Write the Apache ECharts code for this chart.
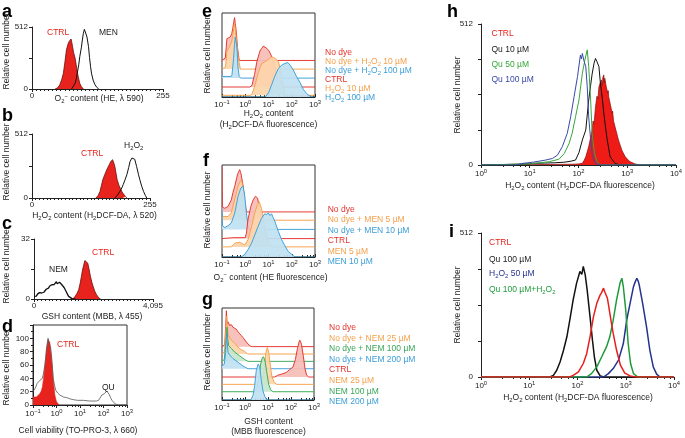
<!DOCTYPE html>
<html><head><meta charset="utf-8">
<script src="https://cdn.jsdelivr.net/npm/echarts@6/dist/echarts.min.js"></script>
<style>html,body{margin:0;padding:0;background:#fff}#c{width:685px;height:438px}</style>
</head><body><div id="c"></div>
<script>
// ================= DATA =================
// a: O2- content (HE, channel 0-255), counts 0-512
const aTicksX = [0, 255];
const aTicksY = [0, 512];
const aCTRL = [[45,0],[50,10],[54,33],[58,80],[61,129],[64,220],[67,322],[70,370],[72,391],[74,400],[76,413],[77,395],[79,350],[81,300],[84,253],[86,200],[88,143],[90,100],[93,47],[96,20],[100,0]];
const aMEN = [[77,0],[80,15],[84,47],[86,80],[88,129],[91,200],[93,267],[96,340],[98,405],[100,460],[102,493],[103,500],[105,482],[107,430],[110,350],[112,260],[114,184],[116,125],[119,74],[122,40],[126,14],[130,0]];
// b: H2O2 content (H2DCF-DA, channel 0-255)
const bTicksX = [0, 255];
const bTicksY = [0, 512];
const bCTRL = [[138,0],[143,20],[147,53],[150,100],[153,147],[157,185],[160,213],[164,245],[167,267],[170,290],[172,300],[174,307],[176,290],[179,253],[181,210],[184,147],[188,100],[192,67],[196,40],[199,27],[202,12],[205,0]];
const bH2O2 = [[179,0],[185,25],[190,53],[194,80],[197,107],[201,145],[205,187],[209,245],[212,293],[216,320],[219,333],[222,310],[226,253],[230,190],[233,147],[237,95],[241,53],[245,20],[248,0]];
// c: GSH content (MBB, channel 0-4095), counts 0-32
const cTicksX = [0, 4095];
const cTicksY = [0, 32];
const cNEM = [[0,1.4],[40,2.2],[80,1.5],[120,2.6],[150,2.3],[190,3.4],[230,2.8],[266,3.2],[300,4.2],[340,3.6],[382,4.1],[420,5.2],[460,4.9],[497,5.8],[540,6.9],[580,6.4],[613,7.6],[650,8.3],[690,7.7],[729,8.5],[770,9.2],[800,8.1],[845,8.5],[880,8.9],[920,7.9],[960,7.6],[1000,6.9],[1040,6.0],[1076,5.0],[1110,3.9],[1150,2.6],[1191,1.4],[1250,0.6],[1307,0.2],[1423,0]];
const cCTRL = [[1307,0],[1380,0.6],[1423,1.4],[1480,3],[1538,5.0],[1590,8.5],[1631,12],[1670,15.5],[1712,18.2],[1750,20.5],[1781,21.2],[1815,20],[1851,19.1],[1900,15.5],[1943,12],[1990,9],[2035,6.7],[2090,4.2],[2151,2.3],[2220,0.8],[2290,0]];
// d: cell viability (TO-PRO-3), x as log10 fluorescence, y 0-100
const dTicksY = [0, 20, 40, 60, 80, 100];
const dCTRL = [[-1,12],[-0.93,11],[-0.86,12],[-0.78,14],[-0.71,17],[-0.65,21],[-0.6,27],[-0.55,40],[-0.5,57],[-0.46,70],[-0.43,82],[-0.39,92],[-0.36,98],[-0.32,97],[-0.29,94],[-0.25,82],[-0.21,69],[-0.17,52],[-0.14,37],[-0.1,25],[-0.07,15],[-0.03,9],[0,5],[0.05,2],[0.11,0]];
const dQU = [[-1,20],[-0.93,22],[-0.88,27],[-0.83,32],[-0.77,35],[-0.71,37],[-0.65,39],[-0.6,40],[-0.55,48],[-0.5,59],[-0.46,71],[-0.43,82],[-0.39,93],[-0.36,100],[-0.32,99],[-0.29,97],[-0.25,86],[-0.21,72],[-0.17,55],[-0.14,40],[-0.08,29],[-0.03,22],[0.05,18],[0.14,15],[0.3,12],[0.43,11],[0.6,9],[0.71,8],[0.9,7],[1.14,7],[1.4,6],[1.57,6],[1.7,6],[1.79,7],[1.86,10],[1.93,15],[2.0,16],[2.04,17],[2.1,20],[2.14,21],[2.19,19],[2.24,16],[2.3,11],[2.36,7],[2.43,4],[2.5,1.5],[2.64,0],[3,0]];
// e: H2O2 content (H2DCF-DA), offset histograms (log10 x, relative height)
const eLabels = ['No dye','No dye + H{s|2}O{s|2} 10 µM','No dye + H{s|2}O{s|2} 100 µM','CTRL','H{s|2}O{s|2} 10 µM','H{s|2}O{s|2} 100 µM'];
const eOffsets = [43.5, 33.2, 22.5, 11.9, 2, 0];
const eNoDye = [[-1,0],[-0.86,3],[-0.82,15],[-0.79,26],[-0.71,27],[-0.64,28],[-0.58,32],[-0.54,38],[-0.5,45],[-0.46,51],[-0.43,44],[-0.4,38],[-0.36,25],[-0.33,15],[-0.29,6],[-0.26,0],[3,0]];
const eNoDye10 = [[-1,0],[-0.86,2],[-0.81,12],[-0.79,21],[-0.71,25],[-0.64,29],[-0.58,33],[-0.54,39],[-0.5,48],[-0.46,55],[-0.42,44],[-0.37,33],[-0.31,15],[-0.27,9],[-0.21,0],[3,0]];
const eNoDye100 = [[-1,2],[-0.8,2],[-0.6,2],[-0.57,4],[-0.5,24],[-0.46,40],[-0.43,49],[-0.4,44],[-0.36,36],[-0.31,12],[-0.26,2],[-0.2,0],[3,0]];
const eCTRL = [[-1,0],[0.2,0],[0.29,2],[0.4,15],[0.5,30],[0.6,40],[0.65,44],[0.71,46],[0.79,49],[0.84,47],[0.89,47],[0.95,45],[1.0,44],[1.06,41],[1.11,38],[1.21,30],[1.31,18],[1.37,8],[1.43,0],[3,0]];
const eH10 = [[-1,0],[0.25,0],[0.3,2],[0.43,13],[0.57,28],[0.71,38],[0.86,40],[1.0,43],[1.07,44],[1.14,46],[1.21,45],[1.29,44],[1.36,42],[1.43,40],[1.5,32],[1.6,16],[1.71,3],[1.78,0],[3,0]];
const eH100 = [[-1,0],[0.86,0],[1.0,5],[1.14,15],[1.29,26],[1.43,34],[1.57,38],[1.71,40],[1.83,41],[1.93,38],[2.07,32],[2.21,24],[2.36,17],[2.5,9],[2.64,4],[2.78,1],[2.9,0],[3,0]];
// f: O2- content (HE fluorescence)
const fLabels = ['No dye','No dye + MEN 5 µM','No dye + MEN 10 µM','CTRL','MEN 5 µM','MEN 10 µM'];
const fOffsets = [49, 40, 30, 20, 11, 0];
const fNoDye = [[-1,49],[-0.98,5],[-0.88,4],[-0.74,6],[-0.6,13],[-0.53,21],[-0.45,28],[-0.34,40],[-0.28,44],[-0.24,46],[-0.2,43],[-0.17,40],[-0.09,28],[-0.02,10],[0.05,0],[3,0]];
const fNoDye5 = [[-1,4],[-0.74,4],[-0.6,8],[-0.45,23],[-0.31,37],[-0.22,42],[-0.17,44],[-0.13,40],[-0.09,33],[-0.02,15],[0.05,0],[3,0]];
const fNoDye10 = [[-1,23],[-0.98,4],[-0.88,2],[-0.74,4],[-0.6,7],[-0.45,18],[-0.31,36],[-0.19,45],[-0.09,47],[-0.02,36],[0.05,18],[0.12,4],[0.19,0],[3,0]];
const fCTRL = [[-1,0],[-0.5,1],[0,1],[0.05,6],[0.12,21],[0.24,35],[0.34,42],[0.44,46],[0.53,44],[0.63,31],[0.73,19],[0.84,8],[0.96,0],[3,0]];
const fMEN5 = [[-1,0],[-0.6,0],[-0.45,4],[-0.24,5],[-0.02,2],[0.12,8],[0.27,22],[0.41,37],[0.53,46],[0.6,49],[0.7,42],[0.81,26],[0.91,12],[1.06,3],[1.2,0],[3,0]];
const fMEN10 = [[-1,0],[-0.17,0],[-0.02,3],[0.12,8],[0.27,15],[0.41,24],[0.55,33],[0.7,42],[0.84,47],[0.92,46],[0.99,48],[1.06,45],[1.13,47],[1.2,43],[1.27,39],[1.42,28],[1.56,19],[1.71,12],[1.85,6],[1.99,3],[2.14,0],[3,0]];
// g: GSH content (MBB fluorescence)
const gLabels = ['No dye','No dye + NEM 25 µM','No dye + NEM 100 µM','No dye + NEM 200 µM','CTRL','NEM 25 µM','NEM 100 µM','NEM 200 µM'];
const gOffsets = [58, 50, 42, 34, 25, 17, 9, 0];
const gNoDye = [[-1,0],[-0.88,2],[-0.84,22],[-0.81,39],[-0.78,25],[-0.74,27],[-0.67,23],[-0.6,24],[-0.52,21],[-0.45,20],[-0.38,19],[-0.3,16],[-0.23,14],[-0.16,12],[-0.09,10],[0.06,5],[0.2,1],[0.3,0],[3,0]];
const gNoDye25 = [[-1,0],[-0.9,2],[-0.84,20],[-0.8,41],[-0.76,28],[-0.74,21],[-0.6,15],[-0.46,12],[-0.25,6],[-0.03,3],[0.12,0],[3,0]];
const gNoDye100 = [[-1,0],[-0.9,2],[-0.83,20],[-0.78,37],[-0.75,25],[-0.71,17],[-0.59,14],[-0.45,10],[-0.23,6],[-0.01,2],[0.13,0],[3,0]];
const gNoDye200 = [[-1,3],[-0.9,5],[-0.84,18],[-0.8,38],[-0.76,25],[-0.74,18],[-0.67,15],[-0.52,11],[-0.3,7],[-0.09,3],[0.13,0],[3,0]];
const gCTRL = [[-1,0],[1.29,0],[1.43,2],[1.58,3],[1.8,5],[1.94,8],[2.09,11],[2.19,19],[2.28,31],[2.35,38],[2.38,40],[2.41,39],[2.46,35],[2.54,22],[2.61,9],[2.68,2],[2.77,0],[3,0]];
const gNEM25 = [[-1,0],[0.71,0],[0.78,6],[0.86,21],[0.91,35],[0.97,40],[1.03,35],[1.1,21],[1.17,8],[1.26,3],[1.36,0],[3,0]];
const gNEM100 = [[-1,0],[0.42,0],[0.52,5],[0.61,16],[0.68,30],[0.75,37],[0.81,38],[0.88,32],[0.96,19],[1.03,8],[1.12,2],[1.22,0],[3,0]];
const gNEM200 = [[-1,0],[0.25,0],[0.35,5],[0.42,16],[0.49,32],[0.57,39],[0.64,36],[0.71,21],[0.78,10],[0.86,4],[0.96,0],[3,0]];
// h: H2O2 content with quercetin (log10 x, counts 0-512)
const hLabels = ['CTRL','Qu 10 µM','Qu 50 µM','Qu 100 µM'];
const hTicksY = [0, 512];
const hCTRL = [[0,0],[1.5,2],[1.9,3],[2.01,4],[2.08,6],[2.12,18],[2.15,30],[2.18,48],[2.21,67],[2.25,100],[2.28,127],[2.3,160],[2.32,150],[2.35,212],[2.38,250],[2.4,240],[2.42,284],[2.45,300],[2.47,309],[2.49,290],[2.5,318],[2.52,327],[2.53,300],[2.54,315],[2.57,284],[2.6,262],[2.61,270],[2.62,248],[2.66,215],[2.69,188],[2.7,196],[2.72,160],[2.75,139],[2.77,145],[2.79,112],[2.82,91],[2.86,70],[2.89,54],[2.93,40],[2.96,30],[3.01,20],[3.06,12],[3.16,4],[3.26,0],[4,0]];
const hQu10 = [[0,0],[1.0,4],[1.06,6],[1.3,7],[1.5,8],[1.7,10],[1.85,14],[1.94,18],[2.01,45],[2.08,91],[2.15,127],[2.21,236],[2.25,290],[2.28,330],[2.32,370],[2.35,387],[2.38,375],[2.42,357],[2.45,297],[2.49,240],[2.52,188],[2.56,130],[2.59,91],[2.65,30],[2.75,6],[2.85,0],[4,0]];
const hQu50 = [[0,0],[1.0,4],[1.4,12],[1.6,21],[1.71,42],[1.81,79],[1.87,115],[1.94,175],[2.01,236],[2.08,333],[2.13,380],[2.18,418],[2.21,357],[2.25,236],[2.28,115],[2.33,42],[2.38,12],[2.45,0],[4,0]];
const hQu100 = [[0,0],[0.72,0],[0.86,6],[1.06,10],[1.33,18],[1.47,24],[1.57,36],[1.67,67],[1.77,115],[1.84,175],[1.91,248],[1.98,321],[2.04,399],[2.06,385],[2.08,405],[2.11,380],[2.15,357],[2.18,284],[2.21,175],[2.25,91],[2.29,30],[2.35,6],[2.45,0],[4,0]];
// i: H2O2 content, quercetin + H2O2
const iLabels = ['CTRL','Qu 100 µM','H{s|2}O{s|2} 50 µM','Qu 100 µM+H{s|2}O{s|2}'];
const iTicksY = [0, 512];
const iCTRL = [[0,0],[1.84,0],[1.91,6],[2.02,18],[2.12,48],[2.19,83],[2.26,143],[2.33,214],[2.4,262],[2.47,292],[2.5,300],[2.54,316],[2.56,305],[2.59,298],[2.62,280],[2.66,238],[2.7,195],[2.74,155],[2.81,95],[2.89,42],[2.98,14],[3.09,4],[3.2,0],[4,0]];
const iQu100 = [[0,0],[1.43,0],[1.5,6],[1.57,24],[1.64,54],[1.71,95],[1.78,143],[1.84,202],[1.91,274],[1.98,333],[2.05,375],[2.09,365],[2.12,393],[2.16,363],[2.2,310],[2.26,214],[2.31,131],[2.35,71],[2.4,24],[2.47,4],[2.55,0],[4,0]];
const iH2O2 = [[0,0],[2.54,0],[2.64,12],[2.74,30],[2.85,60],[2.95,119],[3.02,202],[3.09,262],[3.16,321],[3.2,340],[3.23,351],[3.26,340],[3.28,327],[3.35,262],[3.43,179],[3.5,95],[3.57,36],[3.64,10],[3.71,0],[4,0]];
const iQuH2O2 = [[0,0],[2.19,0],[2.29,12],[2.4,36],[2.5,71],[2.6,107],[2.67,143],[2.74,202],[2.81,274],[2.88,333],[2.92,351],[2.95,321],[3.0,238],[3.05,119],[3.1,48],[3.16,12],[3.25,0],[4,0]];

// ================= STYLE / LAYOUT =================
const FONT = 'Liberation Sans, Arial, Helvetica, sans-serif';
const INK = '#222';
const COL = {red:'#e5322a', orange:'#f4a04c', blue:'#3b9ed8', green:'#3aa657', ctrl:'#e8231d', dark:'#6a0c0a'};
const FILL = {red:'#f6bcb6', orange:'#fcd5aa', blue:'#bfe1f2', green:'#c4e6cc'};

const grids = [], xAxes = [], yAxes = [], series = [], texts = [];

function mkRich(fs, color) {
  const sf = Math.round(fs * 0.7 * 10) / 10;
  return {
    s: {fontSize: sf, fontFamily: FONT, fill: color, color: color, lineHeight: 8, verticalAlign: 'bottom'},
    p: {fontSize: sf, fontFamily: FONT, fill: color, color: color, lineHeight: 6, verticalAlign: 'top'}
  };
}
function T(x, y, text, o) {
  o = o || {};
  const fs = o.fs || 8.5, color = o.color || INK, align = o.align || 'left', va = o.va || 'middle';
  texts.push({type: 'text', x: x, y: y, rotation: o.rot || 0, silent: true, z: 100,
    style: {text: text, x: 0, y: 0, fill: color, fontSize: fs, fontFamily: FONT,
      fontWeight: o.bold ? 'bold' : 'normal', align: align, verticalAlign: va,
      textAlign: align, textVerticalAlign: va, lineHeight: fs + 3, rich: mkRich(fs, color)}});
}
function addGrid(l, t, w, h, border) {
  grids.push({left: l, top: t, width: w, height: h, show: !!border, borderColor: '#333', borderWidth: 1, backgroundColor: 'transparent', containLabel: false});
  return grids.length - 1;
}
const tickLab = (margin, fmt) => ({fontSize: 8, fontFamily: FONT, color: INK, margin: margin, formatter: fmt});
function linX(gi, ticks, margin, fmt) {
  xAxes.push({gridIndex: gi, type: 'value', min: ticks[0], max: ticks[ticks.length - 1], interval: ticks[ticks.length - 1],
    axisLine: {show: true, onZero: false, lineStyle: {color: INK, width: 1}},
    axisTick: {show: true, length: 3, lineStyle: {color: INK}},
    minorTick: {show: true, splitNumber: 32, length: 2, lineStyle: {color: INK}},
    splitLine: {show: false}, minorSplitLine: {show: false},
    axisLabel: tickLab(margin, fmt || (v => String(v)))});
}
function linY(gi, ticks, max, interval, margin, minor) {
  yAxes.push({gridIndex: gi, type: 'value', min: 0, max: max, interval: interval,
    axisLine: {show: true, onZero: false, lineStyle: {color: INK, width: 1}},
    axisTick: {show: true, length: 3, lineStyle: {color: INK}},
    minorTick: {show: !!minor, splitNumber: minor || 2, length: 2, lineStyle: {color: INK}},
    splitLine: {show: false}, minorSplitLine: {show: false},
    axisLabel: tickLab(margin, v => ticks.indexOf(v) >= 0 ? String(v) : '')});
}
function hiddenY(gi) {
  yAxes.push({gridIndex: gi, type: 'value', min: 0, max: 100, show: false, splitLine: {show: false}});
}
function logX(gi, min, max, margin, inside) {
  xAxes.push({gridIndex: gi, type: 'log', logBase: 10, min: min, max: max, splitNumber: 4,
    axisLine: {show: true, onZero: false, lineStyle: {color: INK, width: 1}},
    axisTick: {show: true, inside: !!inside, length: 3, lineStyle: {color: INK}},
    minorTick: {show: true, splitNumber: 5, length: 2, lineStyle: {color: INK}},
    splitLine: {show: false}, minorSplitLine: {show: false},
    axisLabel: {fontSize: 8, fontFamily: FONT, color: INK, margin: margin, lineHeight: 11,
      formatter: v => { const e = Math.round(Math.log10(v)); return '10{p|' + (e < 0 ? '\u2212' + (-e) : e) + '}'; },
      rich: {p: {fontSize: 5.8, fontFamily: FONT, color: INK, lineHeight: 6, verticalAlign: 'top'}}}});
}
const toLin = pts => pts.map(p => [Math.pow(10, p[0]), p[1]]);
function curve(gi, data, o) {
  const s = {type: 'line', xAxisIndex: gi, yAxisIndex: gi, data: data, symbol: 'none', silent: true, animation: false,
    lineStyle: {color: o.line, width: o.w || 1}, z: o.z || 2};
  if (o.fill) s.areaStyle = {color: o.fill, opacity: o.op || 1};
  series.push(s);
}
// offset (waterfall) histogram: filled between its baseline and the curve, drawn via the axes' scales
function offsetCurve(gi, base, pts, line, fill) {
  const d = toLin(pts);
  series.push({type: 'custom', coordinateSystem: 'cartesian2d', xAxisIndex: gi, yAxisIndex: gi,
    data: [[d[0][0], base]], silent: true, animation: false, clip: true,
    renderItem: function (params, api) {
      const top = d.map(p => api.coord([p[0], base + p[1]]));
      const bot = d.slice().reverse().map(p => api.coord([p[0], base]));
      return {type: 'group', children: [
        {type: 'polygon', shape: {points: top.concat(bot)}, style: {fill: fill, opacity: 0.92}},
        {type: 'polyline', shape: {points: top}, style: {stroke: line, lineWidth: 1, fill: null, opacity: 0.95}}
      ]};
    }});
}

// ---------- panel a ----------
let g = addGrid(32, 27, 131, 62);
linX(g, aTicksX, 3); linY(g, aTicksY, 512, 256, 4);
curve(g, aCTRL, {line: COL.dark, w: 0.8, fill: COL.ctrl});
curve(g, aMEN, {line: '#111', w: 1});
// ---------- panel b ----------
g = addGrid(32, 134, 118, 64);
linX(g, bTicksX, 3); linY(g, bTicksY, 512, 256, 4);
curve(g, bCTRL, {line: COL.dark, w: 0.8, fill: COL.ctrl});
curve(g, bH2O2, {line: '#111', w: 1});
// ---------- panel c ----------
g = addGrid(34, 239, 119, 60);
linX(g, cTicksX, 3, v => v === 4095 ? '4,095' : String(v)); linY(g, cTicksY, 32, 16, 4);
curve(g, cNEM, {line: '#111', w: 1.3});
curve(g, cCTRL, {line: COL.dark, w: 0.8, fill: COL.ctrl});
// ---------- panel d ----------
g = addGrid(33, 325, 94, 80, true);
logX(g, 0.1, 1000, 3); linY(g, dTicksY, 120, 20, 4, 2);
curve(g, toLin(dCTRL), {line: COL.ctrl, w: 0.6, fill: COL.ctrl});
curve(g, toLin(dQU), {line: '#555', w: 0.8});
// ---------- panel e ----------
g = addGrid(222, 13, 93, 84, true);
logX(g, 0.1, 1000, 2, true); hiddenY(g);
const eCurves = [eNoDye, eNoDye10, eNoDye100, eCTRL, eH10, eH100];
const eCols = ['red','orange','blue','red','orange','blue'];
eCurves.forEach((c, k) => offsetCurve(g, eOffsets[k], c, COL[eCols[k]], FILL[eCols[k]]));
// ---------- panel f ----------
g = addGrid(222, 165, 93, 92, true);
logX(g, 0.1, 1000, 2, true); hiddenY(g);
const fCurves = [fNoDye, fNoDye5, fNoDye10, fCTRL, fMEN5, fMEN10];
fCurves.forEach((c, k) => offsetCurve(g, fOffsets[k], c, COL[eCols[k]], FILL[eCols[k]]));
// ---------- panel g ----------
g = addGrid(222, 308, 92, 92, true);
logX(g, 0.1, 1000, 2, true); hiddenY(g);
const gCurves = [gNoDye, gNoDye25, gNoDye100, gNoDye200, gCTRL, gNEM25, gNEM100, gNEM200];
const gCols = ['red','orange','green','blue','red','orange','green','blue'];
gCurves.forEach((c, k) => offsetCurve(g, gOffsets[k], c, COL[gCols[k]], FILL[gCols[k]]));
// ---------- panel h ----------
g = addGrid(481, 24, 197, 141);
logX(g, 1, 10000, 3); linY(g, hTicksY, 512, 128, 8);
curve(g, toLin(hCTRL), {line: '#8a0a08', w: 0.7, fill: '#ee1b17'});
curve(g, toLin(hQu10), {line: '#111', w: 1});
curve(g, toLin(hQu50), {line: '#36a63a', w: 1});
curve(g, toLin(hQu100), {line: '#3848a8', w: 1});
// ---------- panel i ----------
g = addGrid(481, 233, 193, 144);
logX(g, 1, 10000, 3); linY(g, iTicksY, 512, 128, 8);
curve(g, toLin(iQu100), {line: '#111', w: 1.5});
curve(g, toLin(iH2O2), {line: '#25338f', w: 1.5});
curve(g, toLin(iQuH2O2), {line: '#1f9a3a', w: 1.5});
curve(g, toLin(iCTRL), {line: '#ea1d1d', w: 1.5});

// ---------- texts ----------
const letters = [['a',2,12],['b',2,116],['c',2,224],['d',2,327],['e',202,12],['f',203,161],['g',202,300],['h',447,12],['i',449,232]];
letters.forEach(l => T(l[1], l[2], l[0], {fs: 18, bold: true, color: '#000'}));
const RCN = 'Relative cell number';
[[7,51],[7,162],[7,265],[7,367],[208,55],[208,210],[208,352],[458,95],[458,305]].forEach(p => T(p[0], p[1], RCN, {rot: Math.PI / 2, align: 'center'}));
T(99, 99, 'O{s|2}{p|\u2212} content (HE, λ 590)', {align: 'center'});
T(94.5, 215.7, 'H{s|2}O{s|2} content (H{s|2}DCF-DA, λ 520)', {align: 'center'});
T(92, 316.5, 'GSH content (MBB, λ 455)', {align: 'center'});
T(78, 430.7, 'Cell viability (TO-PRO-3, λ 660)', {align: 'center'});
T(268.5, 114, 'H{s|2}O{s|2} content', {align: 'center'});
T(268.5, 125, '(H{s|2}DCF-DA fluorescence)', {align: 'center'});
T(270.5, 277.3, 'O{s|2}{p|\u2212} content (HE fluorescence)', {align: 'center'});
T(268.5, 421.7, 'GSH content', {align: 'center'});
T(268.5, 431.3, '(MBB fluorescence)', {align: 'center'});
T(580, 186, 'H{s|2}O{s|2} content (H{s|2}DCF-DA fluorescence)', {align: 'center'});
T(578, 398, 'H{s|2}O{s|2} content (H{s|2}DCF-DA fluorescence)', {align: 'center'});
// in-panel labels a-d
T(47, 32.7, 'CTRL', {color: COL.ctrl}); T(99, 32.7, 'MEN');
T(81, 153.7, 'CTRL', {color: COL.ctrl}); T(124, 146, 'H{s|2}O{s|2}');
T(49, 270, 'NEM'); T(92, 253, 'CTRL', {color: COL.ctrl});
T(57, 345, 'CTRL', {color: COL.ctrl}); T(102, 387.7, 'QU');
// legends e-g
eLabels.forEach((t, k) => T(325, 52.3 + 9.1 * k, t, {color: COL[eCols[k]]}));
fLabels.forEach((t, k) => T(327.7, 209.3 + 10.5 * k, t, {color: COL[eCols[k]]}));
gLabels.forEach((t, k) => T(329, 327.7 + 10.6 * k, t, {color: COL[gCols[k]]}));
// legends h-i
const hCols = [COL.ctrl, '#222', '#36a63a', '#3848a8'];
hLabels.forEach((t, k) => T(491.5, [33.3, 50, 65, 80][k], t, {color: hCols[k]}));
const iCols = [COL.ctrl, '#222', '#25338f', '#1f9a3a'];
iLabels.forEach((t, k) => T(489, [243, 260, 274, 290][k], t, {color: iCols[k]}));

const chart = echarts.init(document.getElementById('c'), null, {renderer: 'canvas'});
chart.setOption({animation: false, backgroundColor: '#fff', grid: grids, xAxis: xAxes, yAxis: yAxes, series: series, graphic: {elements: texts}});
</script></body></html>
